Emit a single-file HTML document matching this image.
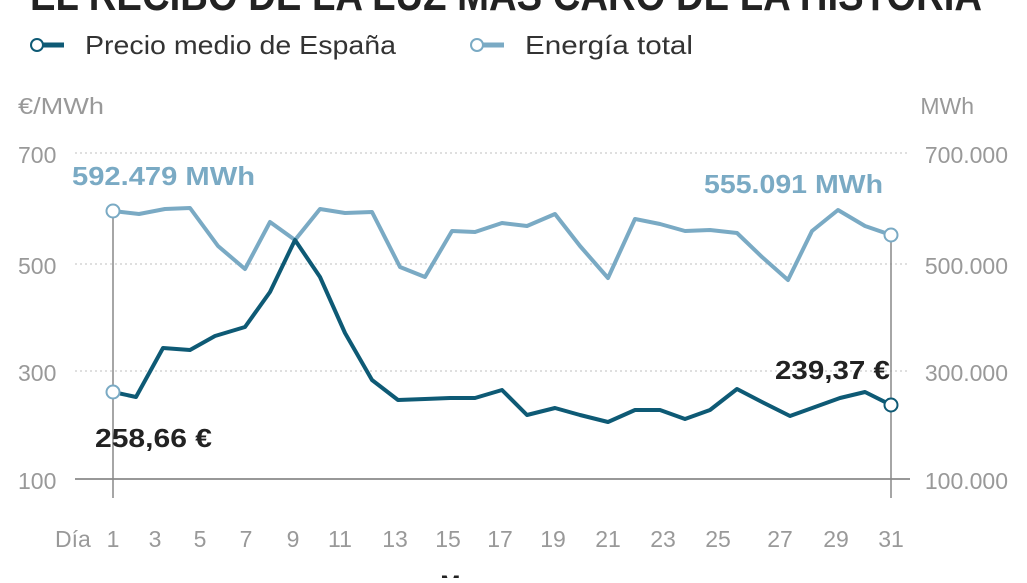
<!DOCTYPE html><html><head><meta charset="utf-8"><style>
body{margin:0;background:#fff;width:1027px;height:578px;overflow:hidden}
svg text{font-family:"Liberation Sans Narrow","Liberation Sans",sans-serif}
</style></head><body>
<svg width="1027" height="578" viewBox="0 0 1027 578">
<text x="30" y="10" font-size="44" font-weight="bold" fill="#222" textLength="952" lengthAdjust="spacingAndGlyphs">EL RECIBO DE LA LUZ MÁS CARO DE LA HISTORIA</text>
<line x1="32" y1="45" x2="64" y2="45" stroke="#0e5a75" stroke-width="5"/><circle cx="37" cy="45" r="6" fill="#fff" stroke="#0e5a75" stroke-width="2"/>
<text x="85" y="54" font-size="26" fill="#333" textLength="311" lengthAdjust="spacingAndGlyphs">Precio medio de España</text>
<line x1="472" y1="45" x2="504" y2="45" stroke="#7aaac4" stroke-width="5"/><circle cx="477" cy="45" r="6" fill="#fff" stroke="#7aaac4" stroke-width="2"/>
<text x="525" y="54" font-size="26" fill="#333" textLength="168" lengthAdjust="spacingAndGlyphs">Energía total</text>
<g font-size="23" fill="#999">
<text x="18" y="114" textLength="86" lengthAdjust="spacingAndGlyphs">€/MWh</text><text x="974" y="114" text-anchor="end">MWh</text>
<text x="18" y="163">700</text><text x="18" y="274">500</text><text x="18" y="381">300</text><text x="18" y="489">100</text>
<text x="1008" y="163" text-anchor="end">700.000</text><text x="1008" y="274" text-anchor="end">500.000</text><text x="1008" y="381" text-anchor="end">300.000</text><text x="1008" y="489" text-anchor="end">100.000</text>
<text x="55" y="547">Día</text>
<g text-anchor="middle"><text x="113" y="547">1</text><text x="155" y="547">3</text><text x="200" y="547">5</text><text x="246" y="547">7</text><text x="293" y="547">9</text><text x="340" y="547">11</text><text x="395" y="547">13</text><text x="448" y="547">15</text><text x="500" y="547">17</text><text x="553" y="547">19</text><text x="608" y="547">21</text><text x="663" y="547">23</text><text x="718" y="547">25</text><text x="780" y="547">27</text><text x="836" y="547">29</text><text x="891" y="547">31</text></g>
</g>
<g stroke="#ccc" stroke-dasharray="2,3" stroke-width="1.2"><line x1="75" y1="153" x2="910" y2="153"/><line x1="75" y1="264" x2="910" y2="264"/><line x1="75" y1="371" x2="910" y2="371"/></g>
<line x1="75" y1="479" x2="910" y2="479" stroke="#777" stroke-width="1.5"/>
<line x1="113" y1="211" x2="113" y2="498" stroke="#888" stroke-width="1.5"/>
<line x1="891" y1="235" x2="891" y2="498" stroke="#888" stroke-width="1.5"/>
<polyline fill="none" stroke="#7aaac4" stroke-width="4" stroke-linejoin="round" points="113,211 139,214 165,209 190,208 218,246 245,269 270,222 295,240 320,209 345,213 372,212 400,267 425,277 452,231 475,232 502,223 527,226 555,214 580,246 608,278 635,219 660,224 685,231 710,230 737,233 762,257 788,280 812,231 838,210 865,226 891,235"/>
<polyline fill="none" stroke="#0e5a75" stroke-width="4" stroke-linejoin="round" points="113,392 136,397 163,348 190,350 215,336 245,327 270,292 295,240 320,277 345,333 372,380 398,400 425,399 450,398 475,398 502,390 527,415 555,408 580,415 608,422 635,410 660,410 685,419 710,410 737,389 762,402 790,416 815,407 840,398 865,392 891,405"/>
<circle cx="113" cy="211" r="6.5" fill="#fff" stroke="#7aaac4" stroke-width="2"/>
<circle cx="891" cy="235" r="6.5" fill="#fff" stroke="#7aaac4" stroke-width="2"/>
<circle cx="113" cy="392" r="6.5" fill="#fff" stroke="#7aaac4" stroke-width="2"/>
<circle cx="891" cy="405" r="6.5" fill="#fff" stroke="#0e5a75" stroke-width="2"/>
<text x="72" y="185" font-size="26" font-weight="bold" fill="#7aaac4" textLength="183" lengthAdjust="spacingAndGlyphs">592.479 MWh</text>
<text x="704" y="193" font-size="26" font-weight="bold" fill="#7aaac4" textLength="179" lengthAdjust="spacingAndGlyphs">555.091 MWh</text>
<text x="95" y="447" font-size="26" font-weight="bold" fill="#222" textLength="117" lengthAdjust="spacingAndGlyphs">258,66 €</text>
<text x="775" y="379" font-size="26" font-weight="bold" fill="#222" textLength="115" lengthAdjust="spacingAndGlyphs">239,37 €</text>
<text x="475" y="592" font-size="24" font-weight="bold" fill="#222" text-anchor="middle">Marzo</text>
</svg></body></html>
